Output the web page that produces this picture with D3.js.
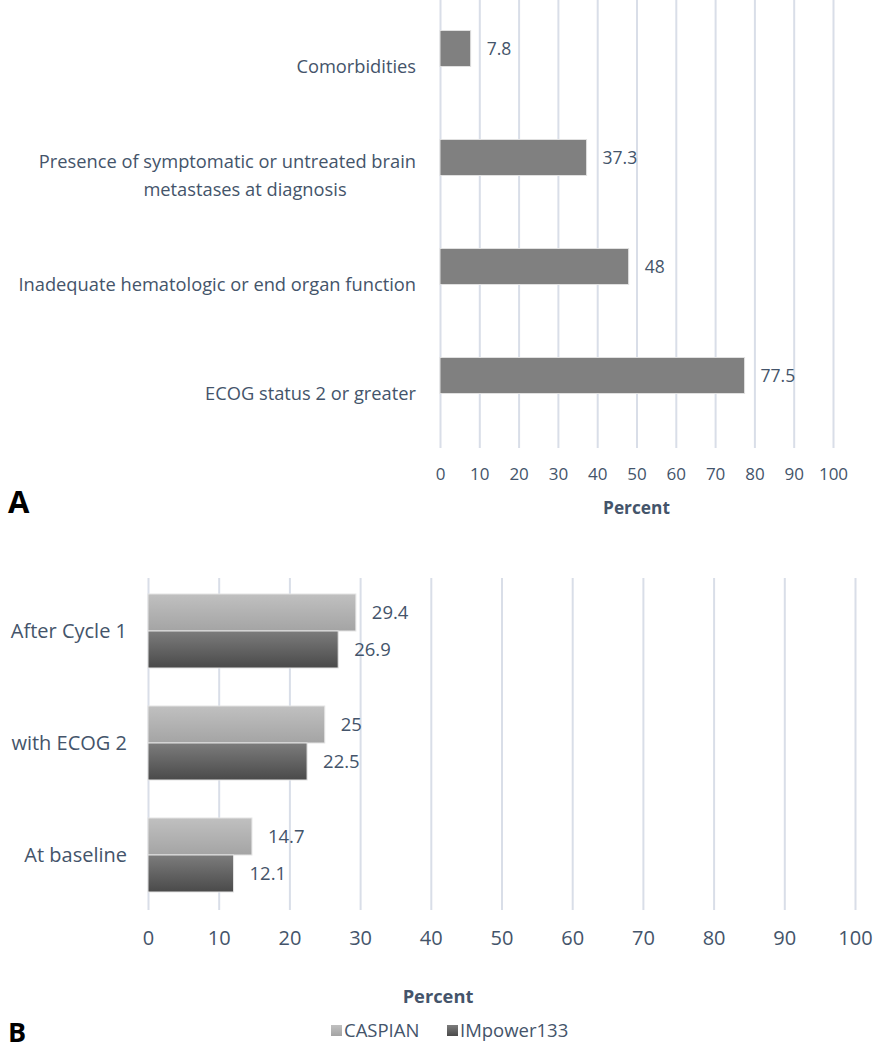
<!DOCTYPE html>
<html><head><meta charset="utf-8">
<script src="https://cdn.jsdelivr.net/npm/d3@7"></script>
<style>body{margin:0;background:#fff}svg{display:block}text{font-family:"Open Sans",sans-serif}</style>
</head><body><svg id="c" width="873" height="1049"></svg>
<script>
// Panel A data
const catsA = ["Comorbidities", "Presence of symptomatic or untreated brain metastases at diagnosis", "Inadequate hematologic or end organ function", "ECOG status 2 or greater"];
const labelLinesA = [["Comorbidities"], ["Presence of symptomatic or untreated brain", "metastases at diagnosis"], ["Inadequate hematologic or end organ function"], ["ECOG status 2 or greater"]];
const valuesA = [7.8, 37.3, 48, 77.5];
const ticks = [0,10,20,30,40,50,60,70,80,90,100];
// Panel B data
const catsB = ["After Cycle 1", "with ECOG 2", "At baseline"];
const seriesB = ["CASPIAN", "IMpower133"];
const caspian = [29.4, 25, 14.7];
const impower = [26.9, 22.5, 12.1];

const svg = d3.select("#c");
const txt = "#44546a", grid = "#d9dee8";
const defs = svg.append("defs");
function grad(id, c1, c2){
  const g = defs.append("linearGradient").attr("id", id).attr("x1",0).attr("y1",0).attr("x2",0).attr("y2",1);
  g.append("stop").attr("offset","0%").attr("stop-color",c1);
  g.append("stop").attr("offset","100%").attr("stop-color",c2);
}
grad("gC", "#c0c0c0", "#a4a4a4");
grad("gI", "#7c7c7c", "#4a4a4a");

// ---------- Panel A ----------
const xA = d3.scaleLinear().domain([0,100]).range([440,833]);
const yA = d3.scaleBand().domain(catsA).range([12,448]);
const gA = svg.append("g");
gA.append("g").attr("transform","translate(0,448)")
  .call(d3.axisBottom(xA).tickValues(ticks).tickSize(-448).tickFormat(""))
  .call(g=>{g.select(".domain").remove(); g.selectAll("line").attr("stroke",grid).attr("stroke-width",2);});
gA.append("g").attr("transform","translate(0,465)")
  .call(d3.axisBottom(xA).tickValues(ticks).tickSize(0))
  .call(g=>{g.select(".domain").remove(); g.selectAll("text").attr("fill",txt).attr("font-size",17).attr("font-family","Open Sans");});
const barHA = 36;
gA.selectAll("rect.a").data(valuesA).join("rect")
  .attr("x", xA(0)).attr("y",(d,i)=>yA(catsA[i])+yA.bandwidth()/2-18-barHA/2)
  .attr("width",d=>xA(d)-xA(0)).attr("height",barHA)
  .attr("fill","#808080").attr("stroke","#e0e0e0").attr("stroke-width",1);
gA.selectAll("text.va").data(valuesA).join("text")
  .attr("x",d=>xA(d)+16).attr("y",(d,i)=>yA(catsA[i])+yA.bandwidth()/2-18)
  .attr("dy","0.35em").attr("fill",txt).attr("font-size",17.5).text(d=>d);
catsA.forEach((c,i)=>{
  const lines = labelLinesA[i];
  const cy = yA(c)+yA.bandwidth()/2;
  lines.forEach((l,j)=>{
    const t = gA.append("text").attr("y", cy + (j-(lines.length-1)/2)*28).attr("dy","0.35em")
      .attr("fill",txt).attr("font-size",18.3).text(l);
    if(j===1){ t.attr("x",245).attr("text-anchor","middle"); }
    else t.attr("x",416).attr("text-anchor","end");
  });
});
gA.append("text").attr("x",(xA(0)+xA(100))/2).attr("y",508).attr("dy","0.35em").attr("text-anchor","middle")
  .attr("fill",txt).attr("font-size",17.3).attr("font-weight","bold").text("Percent");
svg.append("text").attr("x",8).attr("y",513).attr("font-family","Liberation Sans, Arial, sans-serif")
  .attr("font-weight","bold").attr("font-size",31).attr("fill","#000").text("A");

// ---------- Panel B ----------
const xB = d3.scaleLinear().domain([0,100]).range([148,855]);
const yB = d3.scaleBand().domain(catsB).range([575,911]);
const sub = d3.scaleBand().domain(seriesB).range([-37,37]);
const gB = svg.append("g");
gB.append("g").attr("transform","translate(0,910)")
  .call(d3.axisBottom(xB).tickValues(ticks).tickSize(-332).tickFormat(""))
  .call(g=>{g.select(".domain").remove(); g.selectAll("line").attr("stroke",grid).attr("stroke-width",2);});
gB.append("g").attr("transform","translate(0,928)")
  .call(d3.axisBottom(xB).tickValues(ticks).tickSize(0))
  .call(g=>{g.select(".domain").remove(); g.selectAll("text").attr("fill",txt).attr("font-size",20).attr("font-family","Open Sans");});
const rowsB = catsB.map((c,i)=>[{c, s:"CASPIAN", v:caspian[i]},{c, s:"IMpower133", v:impower[i]}]).flat();
gB.selectAll("rect.b").data(rowsB).join("rect")
  .attr("x", xB(0)).attr("y",d=>yB(d.c)+yB.bandwidth()/2+sub(d.s))
  .attr("width",d=>xB(d.v)-xB(0)).attr("height",sub.bandwidth())
  .attr("fill",d=>d.s==="CASPIAN"?"url(#gC)":"url(#gI)").attr("stroke","#e4e4e4").attr("stroke-width",1);
gB.selectAll("text.vb").data(rowsB).join("text")
  .attr("x",d=>xB(d.v)+16).attr("y",d=>yB(d.c)+yB.bandwidth()/2+sub(d.s)+sub.bandwidth()/2)
  .attr("dy","0.35em").attr("fill",txt).attr("font-size",18.5).text(d=>d.v);
gB.selectAll("text.cb").data(catsB).join("text")
  .attr("x",127).attr("y",d=>yB(d)+yB.bandwidth()/2).attr("dy","0.35em").attr("text-anchor","end")
  .attr("fill",txt).attr("font-size",20).text(d=>d);
gB.append("text").attr("x",438).attr("y",997).attr("dy","0.35em").attr("text-anchor","middle")
  .attr("fill",txt).attr("font-size",18.3).attr("font-weight","bold").text("Percent");
// legend
const leg = gB.append("g");
const legX = [331, 447];
seriesB.forEach((s,i)=>{
  leg.append("rect").attr("x",legX[i]).attr("y",1025).attr("width",11).attr("height",11)
    .attr("fill", i===0?"url(#gC)":"url(#gI)");
  leg.append("text").attr("x",legX[i]+13).attr("y",1031).attr("dy","0.35em").attr("fill",txt)
    .attr("font-size",18.5).text(s);
});
svg.append("text").attr("x",8).attr("y",1042).attr("font-family","Liberation Sans, Arial, sans-serif")
  .attr("font-weight","bold").attr("font-size",27).attr("fill","#000").text("B");
</script></body></html>
